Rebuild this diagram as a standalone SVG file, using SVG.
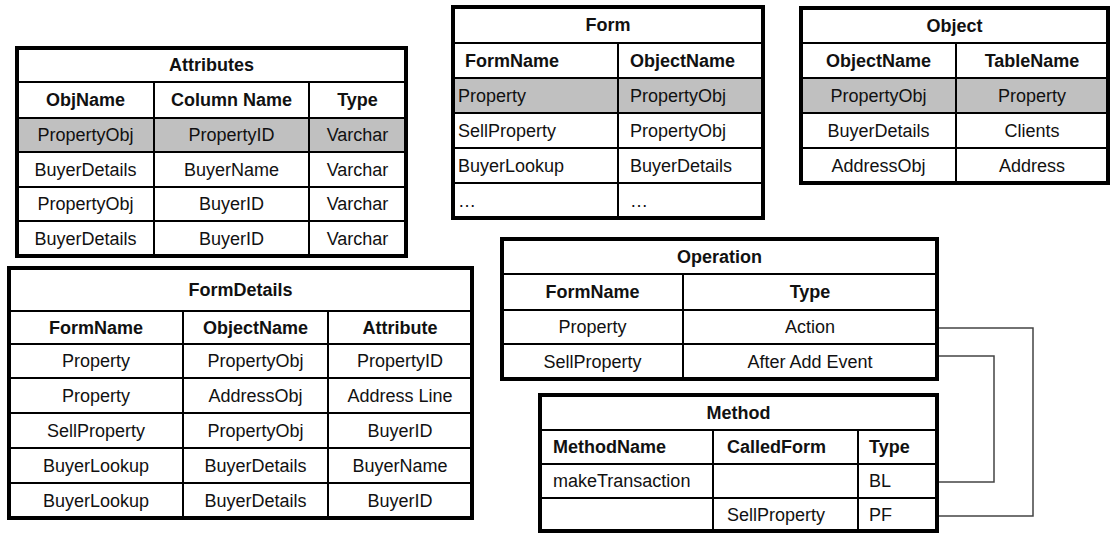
<svg xmlns="http://www.w3.org/2000/svg" width="1111" height="533" viewBox="0 0 1111 533">
<style>
.bg{fill:#ffffff}
.grey{fill:#c0c0c0}
.outer{fill:none;stroke:#000;stroke-width:4}
.grid{fill:none;stroke:#000;stroke-width:2}
text{font-family:"Liberation Sans",Arial,sans-serif;font-size:18px;fill:#111}
.b{font-weight:bold}
.c{text-anchor:middle}
.conn{fill:none;stroke:#444;stroke-width:1.5}
</style>
<rect class="bg" x="0" y="0" width="1111" height="533"/>

<g id="attributes">
<rect class="grey" x="17" y="118" width="389" height="34"/>
<path class="grid" d="M17 82H406M17 118H406M17 152H406M17 187H406M17 221H406M154 82V256M309 82V256"/>
<rect class="outer" x="17" y="48" width="389" height="208"/>
<text class="b c" x="211.5" y="71">Attributes</text>
<text class="b c" x="85.5" y="106">ObjName</text>
<text class="b c" x="231.5" y="106">Column Name</text>
<text class="b c" x="357.5" y="106">Type</text>
<text class="c" x="85.5" y="141">PropertyObj</text>
<text class="c" x="231.5" y="141">PropertyID</text>
<text class="c" x="357.5" y="141">Varchar</text>
<text class="c" x="85.5" y="175.5">BuyerDetails</text>
<text class="c" x="231.5" y="175.5">BuyerName</text>
<text class="c" x="357.5" y="175.5">Varchar</text>
<text class="c" x="85.5" y="210">PropertyObj</text>
<text class="c" x="231.5" y="210">BuyerID</text>
<text class="c" x="357.5" y="210">Varchar</text>
<text class="c" x="85.5" y="244.5">BuyerDetails</text>
<text class="c" x="231.5" y="244.5">BuyerID</text>
<text class="c" x="357.5" y="244.5">Varchar</text>
</g>

<g id="form">
<rect class="grey" x="453" y="78" width="310" height="35"/>
<path class="grid" d="M453 43H763M453 78H763M453 113H763M453 148H763M453 183H763M618 43V218"/>
<rect class="outer" x="453" y="7" width="310" height="211"/>
<text class="b c" x="608" y="31">Form</text>
<text class="b" x="465" y="67">FormName</text>
<text class="b" x="630" y="67">ObjectName</text>
<text x="458" y="102">Property</text>
<text x="630" y="102">PropertyObj</text>
<text x="458" y="137">SellProperty</text>
<text x="630" y="137">PropertyObj</text>
<text x="458" y="172">BuyerLookup</text>
<text x="630" y="172">BuyerDetails</text>
<text x="458" y="207">…</text>
<text x="630" y="207">…</text>
</g>

<g id="object">
<rect class="grey" x="801" y="78" width="307" height="35"/>
<path class="grid" d="M801 43H1108M801 78H1108M801 113H1108M801 148H1108M956 43V183"/>
<rect class="outer" x="801" y="8" width="307" height="175"/>
<text class="b c" x="954.5" y="32">Object</text>
<text class="b c" x="878.5" y="67">ObjectName</text>
<text class="b c" x="1032" y="67">TableName</text>
<text class="c" x="878.5" y="102">PropertyObj</text>
<text class="c" x="1032" y="102">Property</text>
<text class="c" x="878.5" y="137">BuyerDetails</text>
<text class="c" x="1032" y="137">Clients</text>
<text class="c" x="878.5" y="172">AddressObj</text>
<text class="c" x="1032" y="172">Address</text>
</g>

<g id="formdetails">
<path class="grid" d="M9 311H472M9 344H472M9 378H472M9 413H472M9 448H472M9 483H472M183 311V518M328 311V518"/>
<rect class="outer" x="9" y="268" width="463" height="250"/>
<text class="b c" x="240.5" y="296">FormDetails</text>
<text class="b c" x="96" y="334">FormName</text>
<text class="b c" x="255.5" y="334">ObjectName</text>
<text class="b c" x="400" y="334">Attribute</text>
<text class="c" x="96" y="367">Property</text>
<text class="c" x="255.5" y="367">PropertyObj</text>
<text class="c" x="400" y="367">PropertyID</text>
<text class="c" x="96" y="402">Property</text>
<text class="c" x="255.5" y="402">AddressObj</text>
<text class="c" x="400" y="402">Address Line</text>
<text class="c" x="96" y="437">SellProperty</text>
<text class="c" x="255.5" y="437">PropertyObj</text>
<text class="c" x="400" y="437">BuyerID</text>
<text class="c" x="96" y="472">BuyerLookup</text>
<text class="c" x="255.5" y="472">BuyerDetails</text>
<text class="c" x="400" y="472">BuyerName</text>
<text class="c" x="96" y="507">BuyerLookup</text>
<text class="c" x="255.5" y="507">BuyerDetails</text>
<text class="c" x="400" y="507">BuyerID</text>
</g>

<g id="operation">
<path class="grid" d="M502 274H937M502 310H937M502 344H937M683 274V379"/>
<rect class="outer" x="502" y="239" width="435" height="140"/>
<text class="b c" x="719.5" y="263">Operation</text>
<text class="b c" x="592.5" y="298">FormName</text>
<text class="b c" x="810" y="298">Type</text>
<text class="c" x="592.5" y="333">Property</text>
<text class="c" x="810" y="333">Action</text>
<text class="c" x="592.5" y="368">SellProperty</text>
<text class="c" x="810" y="368">After Add Event</text>
</g>

<g id="method">
<path class="grid" d="M540 430H937M540 464H937M540 498H937M713 430V531M858 430V531"/>
<rect class="outer" x="540" y="395" width="397" height="136"/>
<text class="b c" x="738.5" y="419">Method</text>
<text class="b" x="553" y="453">MethodName</text>
<text class="b" x="727" y="453">CalledForm</text>
<text class="b" x="869" y="453">Type</text>
<text x="553" y="487">makeTransaction</text>
<text x="869" y="487">BL</text>
<text x="727" y="521">SellProperty</text>
<text x="869" y="521">PF</text>
</g>

<g id="connectors">
<path class="conn" d="M939 328H1033V516H939"/>
<path class="conn" d="M939 356H994V482H939"/>
</g>
</svg>
